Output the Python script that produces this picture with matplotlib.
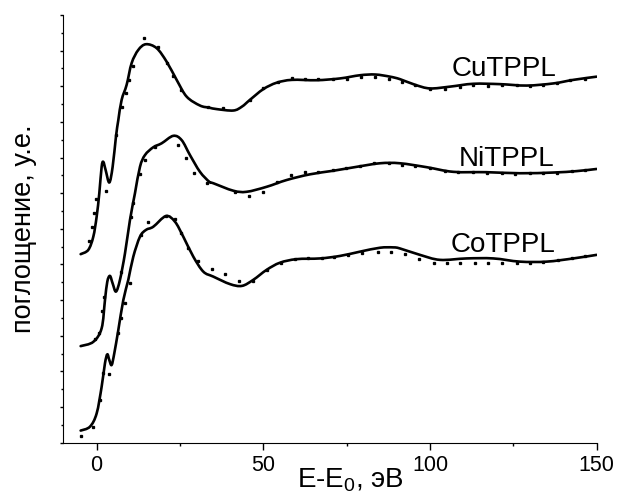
import matplotlib
matplotlib.use('Agg')
import matplotlib.pyplot as plt
import numpy as np
from matplotlib.ticker import MultipleLocator
from matplotlib.path import Path
from matplotlib.patches import PathPatch

plt.rcParams['font.family'] = ['Liberation Sans', 'DejaVu Sans']
plt.rcParams['mathtext.fontset'] = 'custom'
plt.rcParams['mathtext.rm'] = 'Liberation Sans'
plt.rcParams['mathtext.it'] = 'Liberation Sans'

# --- CuTPPL: theory (line) and experiment (dots)
cu_e = [-4.8, -2.5, -1.0, 0, 0.8, 1.5, 2.0, 2.7, 3.8, 4.8, 5.8, 6.5, 7.5, 9.0, 10.5, 12.5,
        14.8, 18, 21, 24, 27, 31, 33.8, 36, 41, 43.6, 46, 50, 54, 58.6, 66, 73, 79, 83.6,
        88, 91, 95.6, 100, 106, 113, 121, 129, 137, 143, 150]
cu_y = [5.29, 5.41, 5.78, 6.34, 7.00, 7.74, 7.88, 7.65, 7.30, 7.74, 8.59, 9.05, 9.62, 10.04,
        10.65, 11.02, 11.18, 11.07, 10.69, 10.18, 9.71, 9.46, 9.40, 9.36, 9.32, 9.43, 9.62,
        9.92, 10.10, 10.18, 10.17, 10.22, 10.31, 10.33, 10.27, 10.20, 10.04, 9.94, 9.99,
        10.07, 10.06, 10.02, 10.08, 10.18, 10.27]
cu_exp_e = [-2.3, -1.5, -0.7, -0.2, 2.8, 5.8, 7.5, 8.7, 9.7, 11, 14.3, 18.5, 21, 23, 25.3,
            33.5, 37.8, 46, 50, 54.4, 58.6, 62.6, 66.5, 70.9, 75, 79.3, 83.5, 87.6, 91.6,
            95.6, 100.1, 104.6, 109, 113, 117.5, 121.5, 126, 130, 134, 138, 142, 146.5]
cu_exp_y = [5.67, 6.04, 6.44, 6.83, 7.07, 8.63, 9.41, 9.80, 10.18, 10.58, 11.36, 11.11, 10.66,
            10.30, 9.90, 9.43, 9.38, 9.62, 9.94, 10.13, 10.22, 10.20, 10.20, 10.20, 10.20,
            10.25, 10.27, 10.20, 10.13, 10.04, 9.92, 9.92, 9.99, 10.04, 10.01, 10.04, 10.04,
            10.01, 10.04, 10.08, 10.18, 10.21]

# --- NiTPPL
ni_e = [-4.8, -1, 1.5, 2.5, 3.2, 4.0, 4.8, 5.8, 7, 8.5, 10, 11.5, 13, 14.5, 17, 19.5, 23,
        25.5, 28, 31, 33.8, 35, 41, 45, 51, 57, 64, 71, 78, 85, 91, 99, 107, 117, 127, 137,
        144, 150]
ni_y = [2.71, 2.83, 3.21, 4.00, 4.52, 4.68, 4.47, 4.24, 4.57, 5.31, 6.25, 7.00, 7.74, 8.07,
        8.29, 8.40, 8.61, 8.49, 8.07, 7.60, 7.32, 7.28, 7.07, 7.04, 7.18, 7.37, 7.53, 7.63,
        7.74, 7.84, 7.84, 7.73, 7.60, 7.59, 7.56, 7.58, 7.62, 7.68]
ni_exp_e = [-0.5, 0.8, 1.7, 2.3, 7.2, 10.3, 10.8, 13, 14.5, 17.5, 24.5, 26.8, 29.3, 33.2,
            41.5, 45.8, 49.9, 54, 58.3, 62.5, 66.5, 70.8, 74.9, 79.1, 83.3, 87.6, 91.6,
            95.6, 100, 104.5, 108.5, 113, 117, 121.5, 125.5, 130, 134, 138, 142.5, 146.5]
ni_exp_y = [2.90, 3.08, 3.70, 4.10, 4.78, 6.34, 6.73, 7.54, 7.93, 8.29, 8.35, 7.98, 7.58,
            7.28, 7.04, 6.92, 7.04, 7.32, 7.51, 7.59, 7.60, 7.65, 7.71, 7.76, 7.86, 7.84,
            7.80, 7.76, 7.70, 7.63, 7.60, 7.59, 7.58, 7.56, 7.55, 7.56, 7.57, 7.58, 7.61,
            7.64]

# --- CoTPPL
co_e = [-4.8, -2, 0, 1.5, 2.5, 3.2, 3.8, 4.5, 5.3, 6.5, 8, 9.5, 11, 13, 14.8, 17, 20.8,
        23.5, 26, 29, 32, 35, 40, 43.6, 47, 51, 55, 60, 67, 73, 79, 85, 89, 91, 97, 103,
        111, 119, 127, 135, 143, 150]
co_y = [0.34, 0.45, 0.82, 1.57, 2.23, 2.48, 2.32, 2.18, 2.51, 3.16, 4.00, 4.57, 5.22, 5.78,
        5.97, 6.06, 6.36, 6.20, 5.78, 5.22, 4.80, 4.66, 4.45, 4.40, 4.57, 4.85, 5.05, 5.15,
        5.17, 5.24, 5.36, 5.47, 5.48, 5.45, 5.27, 5.13, 5.17, 5.17, 5.08, 5.08, 5.17, 5.27]
co_exp_e = [-4.8, -1, 0.9, 2.0, 3.8, 6.5, 7.3, 8.5, 10, 13.3, 15.3, 20.8, 23.5, 25.2, 27.5,
            30.3, 34.5, 38.5, 42.8, 46.9, 51, 55.2, 59.5, 63.5, 67.5, 71.3, 75.5, 79.5,
            84.3, 88.4, 92.6, 96.6, 101.1, 105.1, 109, 113.5, 117.5, 121.5, 126, 130, 134,
            138.5, 142.5, 146.5]
co_exp_y = [0.19, 0.43, 1.20, 1.95, 1.93, 3.07, 3.49, 3.91, 4.47, 5.83, 6.20, 6.36, 6.27,
            5.88, 5.45, 5.11, 4.87, 4.73, 4.54, 4.55, 4.85, 5.05, 5.15, 5.17, 5.17, 5.20,
            5.27, 5.31, 5.36, 5.35, 5.29, 5.15, 5.05, 5.03, 5.03, 5.03, 5.03, 5.03, 5.03,
            5.03, 5.06, 5.13, 5.17, 5.24]

labels = ['CuTPPL', 'NiTPPL', 'CoTPPL']
label_x = [106.6, 108.5, 106.3]
label_y = [10.30, 7.76, 5.35]


def smooth_path(x, y):
    # bezier curve through the read points (catmull-rom style handles)
    pts = np.column_stack([x, y]).astype(float)
    n = len(pts)
    verts = [pts[0]]
    codes = [Path.MOVETO]
    for i in range(n - 1):
        p0 = pts[max(i - 1, 0)]
        p1 = pts[i]
        p2 = pts[i + 1]
        p3 = pts[min(i + 2, n - 1)]
        verts += [p1 + (p2 - p0) / 6, p2 - (p3 - p1) / 6, p2]
        codes += [Path.CURVE4] * 3
    return Path(verts, codes)


fig = plt.figure(figsize=(6.17, 5.0), dpi=100)
ax = fig.add_axes([0.1026, 0.1146, 0.8644, 0.8554])

for e, y, ee, ey in [(cu_e, cu_y, cu_exp_e, cu_exp_y),
                     (ni_e, ni_y, ni_exp_e, ni_exp_y),
                     (co_e, co_y, co_exp_e, co_exp_y)]:
    ax.add_patch(PathPatch(smooth_path(e, y), fill=False, edgecolor='black',
                           linewidth=1.9, capstyle='round', joinstyle='round'))
    ax.plot(ee, ey, linestyle='none', marker='s', markersize=1.4, color='black')

for lab, lx, ly in zip(labels, label_x, label_y):
    ax.text(lx, ly, lab, fontsize=20, ha='left', va='baseline')

ax.set_xlim(-10, 150)
ax.set_ylim(0, 12)
ax.xaxis.set_major_locator(MultipleLocator(50))
ax.xaxis.set_minor_locator(MultipleLocator(25))
ax.yaxis.set_major_locator(MultipleLocator(1))
ax.yaxis.set_minor_locator(MultipleLocator(0.5))
ax.set_yticklabels([])
ax.tick_params(axis='x', which='major', length=5, width=1, labelsize=15.5, pad=4)
ax.tick_params(axis='x', which='minor', length=2.5, width=1)
ax.tick_params(axis='y', which='major', length=2.5, width=1)
ax.tick_params(axis='y', which='minor', length=1.5, width=1)
ax.spines['top'].set_visible(False)
ax.spines['right'].set_visible(False)

ax.set_xlabel('E-E$_0$, эВ', fontsize=20)
ax.xaxis.set_label_coords(0.5375, -0.055)
ax.set_ylabel('поглощение, у.е.', fontsize=19.5)
ax.yaxis.set_label_coords(-0.05, 0.5)

fig.savefig('out.png', dpi=100)
